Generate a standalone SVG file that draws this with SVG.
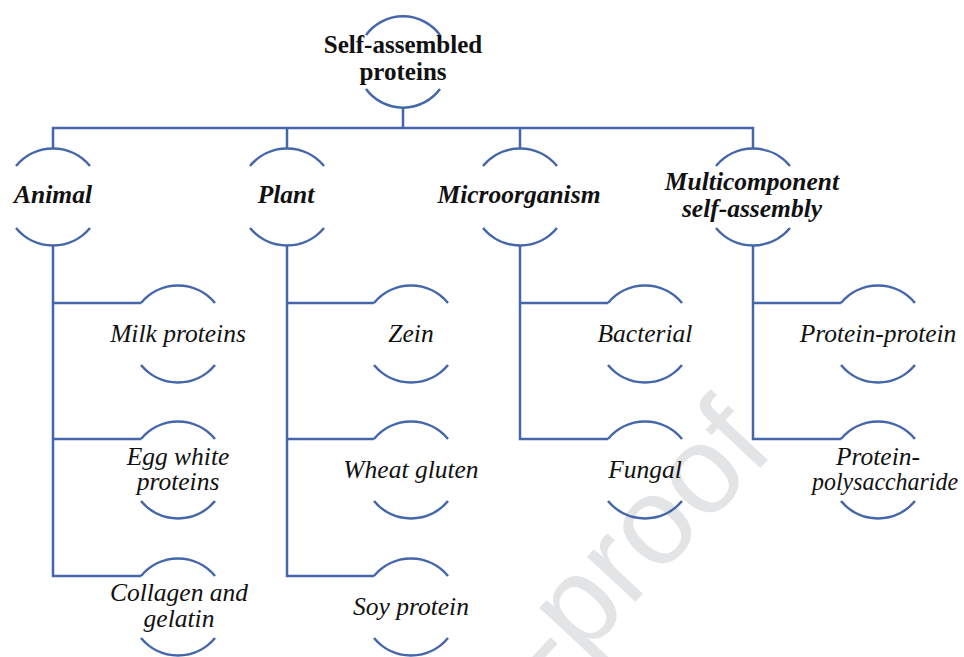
<svg xmlns="http://www.w3.org/2000/svg" width="964" height="657" viewBox="0 0 964 657">
<style>
.arc{fill:none;stroke:#4466aa;stroke-width:2.5}
.con{fill:none;stroke:#4466aa;stroke-width:2.5}
.lbl{font-family:'Liberation Serif','DejaVu Serif','Noto Serif',serif;font-size:25.5px;font-style:italic;fill:#111;text-anchor:middle}
.cat{font-family:'Liberation Serif','DejaVu Serif','Noto Serif',serif;font-size:25.5px;font-style:italic;font-weight:bold;fill:#111;text-anchor:middle}
.root{font-family:'Liberation Serif','DejaVu Serif','Noto Serif',serif;font-size:25px;font-weight:bold;fill:#111;text-anchor:middle}
.wm{font-family:'Liberation Sans',Arial,sans-serif;font-size:125px;fill:#e3e4e6;text-anchor:middle}
</style>
<defs>
<path id="n" class="arc" d="M-37,-31 A48,48 0 0 1 37,-31 M-37,31 A48,48 0 0 0 37,31"/>
</defs>
<text class="wm" transform="translate(665,570) rotate(-47)">-proof</text>
<g id="connectors">
<path class="con" d="M403,108 V128 M53,148 V128 H753 V148 M287,128 V148 M520,128 V148"/>
<path class="con" d="M53,245 V576 H141 M53,303 H141 M53,439 H141"/>
<path class="con" d="M287,245 V576 H374 M287,303 H374 M287,439 H374"/>
<path class="con" d="M520,245 V439 H608 M520,303 H608"/>
<path class="con" d="M753,245 V439 H841 M753,303 H841"/>
</g>
<g id="root">
<path class="arc" d="M366,35 A46,46 0 0 1 440,35 M366,89 A46,46 0 0 0 440,89"/>
<text class="root" x="403" y="53">Self-assembled</text>
<text class="root" x="403" y="80">proteins</text>
</g>
<g id="animal"><use href="#n" x="53" y="197"/><text class="cat" x="53" y="203">Animal</text></g>
<g id="plant"><use href="#n" x="287" y="197"/><text class="cat" x="286" y="203">Plant</text></g>
<g id="microorganism"><use href="#n" x="520" y="197"/><text class="cat" x="519" y="203">Microorganism</text></g>
<g id="multicomponent"><use href="#n" x="753" y="197"/><text class="cat" x="752" y="190">Multicomponent</text><text class="cat" x="752" y="217">self-assembly</text></g>
<g id="milk"><use href="#n" x="178" y="334"/><text class="lbl" x="178" y="342">Milk proteins</text></g>
<g id="egg"><use href="#n" x="178" y="470"/><text class="lbl" x="178" y="465">Egg white</text><text class="lbl" x="178" y="490">proteins</text></g>
<g id="collagen"><use href="#n" x="178" y="607"/><text class="lbl" x="179" y="601">Collagen and</text><text class="lbl" x="179" y="627">gelatin</text></g>
<g id="zein"><use href="#n" x="411" y="334"/><text class="lbl" x="411" y="342">Zein</text></g>
<g id="wheat"><use href="#n" x="411" y="470"/><text class="lbl" x="411" y="478">Wheat gluten</text></g>
<g id="soy"><use href="#n" x="411" y="607"/><text class="lbl" x="411" y="615">Soy protein</text></g>
<g id="bacterial"><use href="#n" x="645" y="334"/><text class="lbl" x="645" y="342">Bacterial</text></g>
<g id="fungal"><use href="#n" x="645" y="470"/><text class="lbl" x="645" y="478">Fungal</text></g>
<g id="protein-protein"><use href="#n" x="878" y="334"/><text class="lbl" x="878" y="342">Protein-protein</text></g>
<g id="protein-polysaccharide"><use href="#n" x="878" y="470"/><text class="lbl" x="878" y="465">Protein-</text><text class="lbl" x="885" y="490" textLength="146" lengthAdjust="spacingAndGlyphs">polysaccharide</text></g>
</svg>
